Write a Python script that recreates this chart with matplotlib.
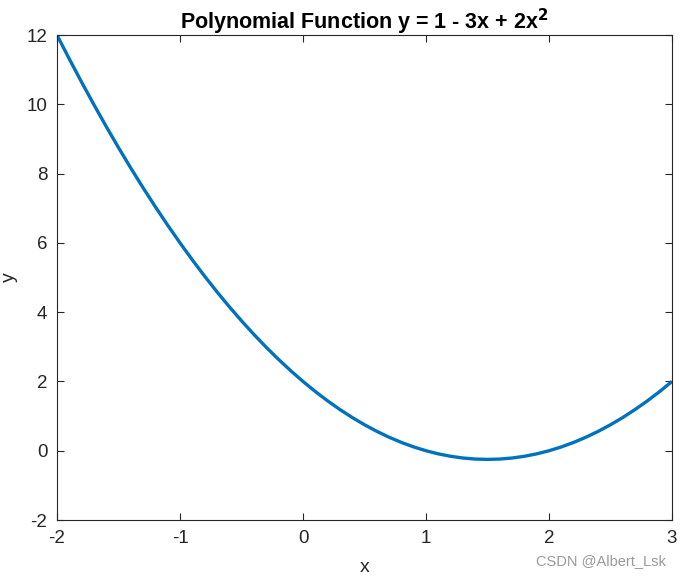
import matplotlib
matplotlib.use("Agg")
import matplotlib.pyplot as plt

plt.rcParams["font.family"] = ["Liberation Sans", "DejaVu Sans"]

# values, every 0.1 in x
x_vals = [-2.0, -1.9, -1.8, -1.7, -1.6, -1.5, -1.4, -1.3, -1.2, -1.1,
          -1.0, -0.9, -0.8, -0.7, -0.6, -0.5, -0.4, -0.3, -0.2, -0.1,
          0.0, 0.1, 0.2, 0.3, 0.4, 0.5, 0.6, 0.7, 0.8, 0.9,
          1.0, 1.1, 1.2, 1.3, 1.4, 1.5, 1.6, 1.7, 1.8, 1.9,
          2.0, 2.1, 2.2, 2.3, 2.4, 2.5, 2.6, 2.7, 2.8, 2.9, 3.0]
y_vals = [12.0, 11.31, 10.64, 9.99, 9.36, 8.75, 8.16, 7.59, 7.04, 6.51,
          6.0, 5.51, 5.04, 4.59, 4.16, 3.75, 3.36, 2.99, 2.64, 2.31,
          2.0, 1.71, 1.44, 1.19, 0.96, 0.75, 0.56, 0.39, 0.24, 0.11,
          0.0, -0.09, -0.16, -0.21, -0.24, -0.25, -0.24, -0.21, -0.16, -0.09,
          0.0, 0.11, 0.24, 0.39, 0.56, 0.75, 0.96, 1.19, 1.44, 1.71, 2.0]
x_ticks = [-2, -1, 0, 1, 2, 3]
y_ticks = [-2, 0, 2, 4, 6, 8, 10, 12]

fig = plt.figure(figsize=(6.81, 5.78), dpi=100)
ax = fig.add_axes([0.0837, 0.1003, 0.9031, 0.8391])

ax.plot(x_vals, y_vals, color="#0072BD", linewidth=2.4,
        solid_joinstyle="round", solid_capstyle="butt")

ax.set_xlim(-2, 3)
ax.set_ylim(-2, 12)
ax.set_xticks(x_ticks)
ax.set_yticks(y_ticks)
ax.set_xticklabels([str(t) for t in x_ticks])
ax.set_yticklabels([str(t) for t in y_ticks])

ax.tick_params(direction="in", top=True, right=True, length=5, width=0.8,
               colors="#262626", labelsize=13.5, pad=7)
for s in ax.spines.values():
    s.set_color("#262626")
    s.set_linewidth(0.8)

ax.set_xlabel("x", fontsize=14, color="#262626", labelpad=9)
ax.set_ylabel("y", fontsize=14, color="#262626", labelpad=6)
ax.set_title("Polynomial Function y = 1 - 3x + 2x$^\\mathbf{2}$", fontsize=15.5,
             fontweight="bold", pad=4)

fig.text(0.978, 0.018, "CSDN @Albert_Lsk", ha="right", va="bottom",
         fontsize=10.5, color="#9a9a9a")

fig.savefig("out.png", dpi=100)
